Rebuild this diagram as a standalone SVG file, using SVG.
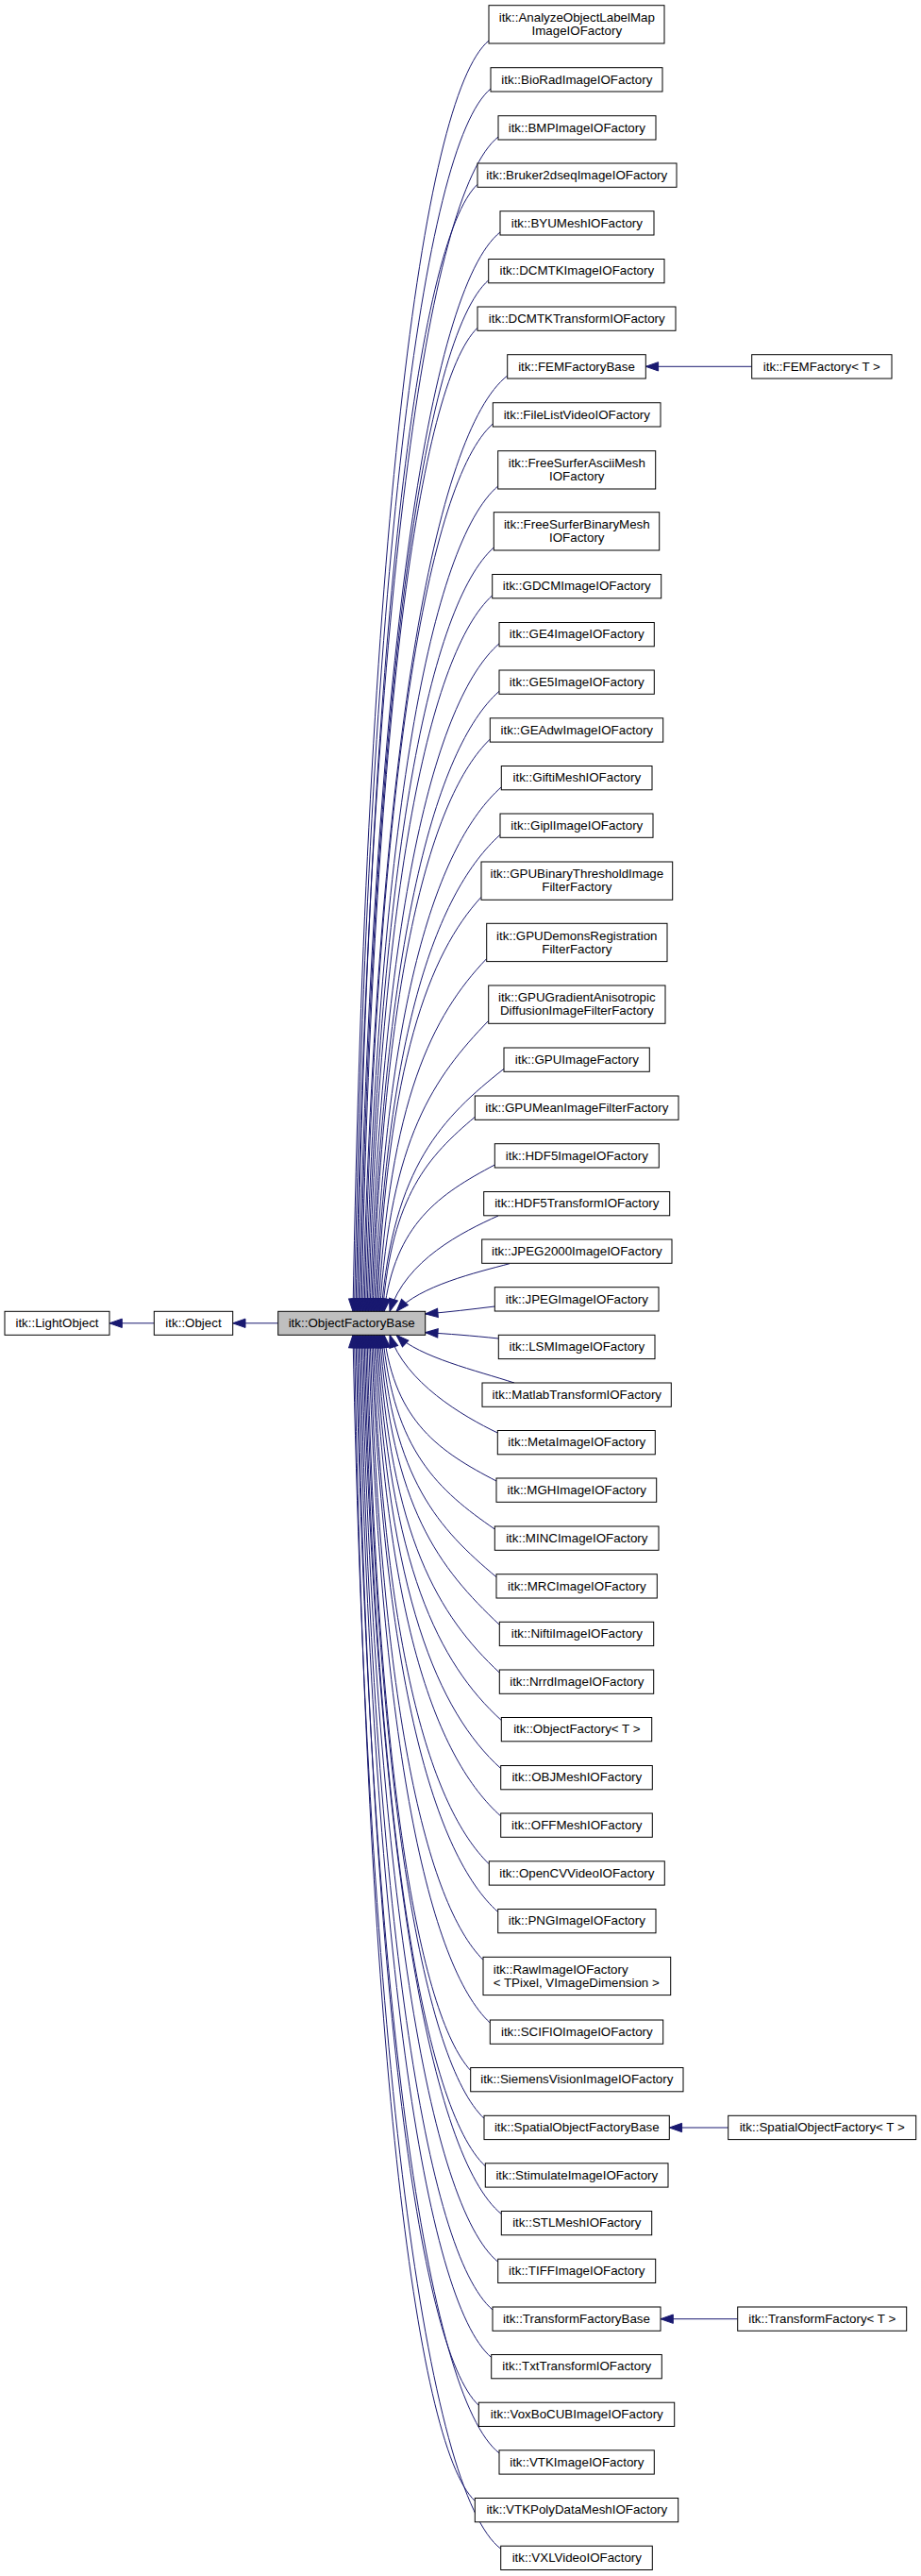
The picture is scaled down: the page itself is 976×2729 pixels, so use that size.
<svg xmlns="http://www.w3.org/2000/svg" width="976" height="2729" viewBox="0 0 976 2729">
<defs>
<style>
.node rect{fill:#ffffff;stroke:#000000;stroke-width:1}
.node text{font-family:"Liberation Sans",Arial,sans-serif;font-size:13.33px;fill:#000000;text-anchor:middle}
.node text.l{text-anchor:start}
#n0c rect{fill:#bfbfbf}
#edges path{fill:none;stroke:#191970;stroke-width:1;marker-end:url(#arr)}
</style>
<marker id="arr" markerUnits="userSpaceOnUse" markerWidth="14" markerHeight="10" viewBox="0 0 14 10" refX="13.3" refY="5" orient="auto" overflow="visible">
<path d="M0,0.33 L13.3,5 L0,9.67 z" fill="#191970" stroke="#191970" stroke-width="1"/>
</marker>
</defs>
<rect x="0" y="0" width="976" height="2729" fill="#ffffff"/>
<g id="edges">
<path d="M163.3,1401.8 L116,1401.8"/>
<path d="M294.7,1401.8 L246.7,1401.8"/>
<path d="M796.7,388.3 L684.3,388.3"/>
<path d="M771.7,2254 L709.3,2254"/>
<path d="M781.7,2456.7 L700,2456.7"/>
<path d="M518,43 C446,103 388.4,581.5 374,1389.3"/>
<path d="M520,94 C447.8,154 390,612 375.5,1389.3"/>
<path d="M528,145 C452.5,205 392.1,642.7 377,1389.3"/>
<path d="M506,195.3 C442.3,255.3 391.3,672.9 378.5,1389.3"/>
<path d="M530,246 C454.7,306 394.9,703.3 380,1389.3"/>
<path d="M517.7,296.8 C449.6,356.8 395.1,733.8 381.5,1389.3"/>
<path d="M506,347.3 C444.5,407.3 395.3,764.1 383,1389.3"/>
<path d="M537.7,398 C461.1,458 399.8,794.5 384.5,1389.3"/>
<path d="M522.3,449 C454.2,509 399.6,825.1 386,1389.3"/>
<path d="M527.7,515 C457.6,575 401.5,864.7 387.5,1389.3"/>
<path d="M523.3,580 C456.2,640 402.4,903.7 389,1389.3"/>
<path d="M521.7,630.8 C456.1,690.8 403.6,934.2 390.5,1389.3"/>
<path d="M529,681.8 C460.5,741.8 405.7,964.8 392,1389.3"/>
<path d="M529,732.3 C461.3,792.3 407.1,995.1 393.5,1389.3"/>
<path d="M519.3,783.1 C457.2,843.1 407.4,1025.6 395,1389.3"/>
<path d="M531.3,833.8 C463.9,893.8 410,1056 396.5,1389.3"/>
<path d="M530,884.3 C464,944.3 411.2,1086.3 398,1389.3"/>
<path d="M510,950.3 C454.8,1010.3 410.6,1125.9 399.5,1389.3"/>
<path d="M515.7,1015.6 C458.4,1075.6 412.5,1165.1 401,1389.3"/>
<path d="M517.7,1081.3 C460.1,1141.3 414,1204.5 402.5,1389.3"/>
<path d="M534,1132.3 C469,1183.7 417,1235.1 404,1389.3"/>
<path d="M503.3,1183.3 C454.4,1224.5 415.3,1265.7 405.5,1389.3"/>
<path d="M524.3,1234 C465.7,1265.1 418.7,1296.1 407,1389.3"/>
<path d="M528,1288 C490,1305 430,1335 413,1389.3"/>
<path d="M540,1338.7 C505,1348 445,1362 420,1389.3"/>
<path d="M524.3,1384 C500,1387 475,1390 450.7,1392"/>
<path d="M528.3,1418 C500,1415 475,1413 450.7,1411.7"/>
<path d="M545,1465 C505,1452 445,1438 420,1414.3"/>
<path d="M527.3,1518 C490,1500 430,1465 413,1414.3"/>
<path d="M526,1569 C466.5,1538.1 418.9,1507.1 407,1414.3"/>
<path d="M524.3,1620 C464.9,1578.9 417.4,1537.7 405.5,1414.3"/>
<path d="M526,1670.7 C465,1619.4 416.2,1568.1 404,1414.3"/>
<path d="M529.3,1721.3 C465.9,1661.3 415.2,1598.5 402.5,1414.3"/>
<path d="M529.3,1772 C465.2,1712 413.8,1628.9 401,1414.3"/>
<path d="M531.3,1822.5 C465.4,1762.5 412.7,1659.2 399.5,1414.3"/>
<path d="M530.7,1873.5 C464.4,1813.5 411.3,1689.8 398,1414.3"/>
<path d="M530.7,1924 C463.6,1864 409.9,1720.1 396.5,1414.3"/>
<path d="M518.3,1974.8 C456.7,1914.8 407.3,1750.6 395,1414.3"/>
<path d="M527.7,2025.5 C460.6,1965.5 406.9,1781 393.5,1414.3"/>
<path d="M512,2076.3 C452,2016.3 404,1811.5 392,1414.3"/>
<path d="M519.3,2143 C454.9,2083 403.4,1851.5 390.5,1414.3"/>
<path d="M498.7,2193.5 C443.9,2133.5 400,1881.8 389,1414.3"/>
<path d="M513,2244.3 C450.3,2184.3 400.1,1912.3 387.5,1414.3"/>
<path d="M514.3,2294.8 C450.2,2234.8 398.8,1942.6 386,1414.3"/>
<path d="M531.3,2345.5 C457.9,2285.5 399.2,1973 384.5,1414.3"/>
<path d="M527.7,2396.2 C455.4,2336.2 397.5,2003.4 383,1414.3"/>
<path d="M522,2447 C451.8,2387 395.6,2033.9 381.5,1414.3"/>
<path d="M520.7,2497.5 C450.4,2437.5 394.1,2064.2 380,1414.3"/>
<path d="M507.3,2548.2 C442.9,2488.2 391.4,2094.6 378.5,1414.3"/>
<path d="M529,2598.8 C453,2538.8 392.2,2125 377,1414.3"/>
<path d="M503.3,2649.5 C439.4,2589.5 388.3,2155.4 375.5,1414.3"/>
<path d="M530.7,2700.2 C452.4,2640.2 389.7,2185.8 374,1414.3"/>
</g>
<g id="n0a" class="node"><rect x="5" y="1389.3" width="111" height="25"/><text x="60.5" y="1406.2">itk::LightObject</text></g>
<g id="n0b" class="node"><rect x="163.3" y="1389.3" width="83.4" height="25"/><text x="205" y="1406.2">itk::Object</text></g>
<g id="n0c" class="node"><rect x="294.7" y="1389.3" width="156" height="25"/><text x="372.7" y="1406.2">itk::ObjectFactoryBase</text></g>
<g id="n1" class="node"><rect x="518" y="5.7" width="186" height="40.3"/><text x="611.3" y="23">itk::AnalyzeObjectLabelMap</text><text x="611.3" y="37">ImageIOFactory</text></g>
<g id="n2" class="node"><rect x="520" y="71.7" width="182" height="25.3"/><text x="611.3" y="88.5">itk::BioRadImageIOFactory</text></g>
<g id="n3" class="node"><rect x="528" y="122.7" width="167" height="25.3"/><text x="611.3" y="139.5">itk::BMPImageIOFactory</text></g>
<g id="n4" class="node"><rect x="506" y="173" width="211" height="25.3"/><text x="611.3" y="189.8">itk::Bruker2dseqImageIOFactory</text></g>
<g id="n5" class="node"><rect x="530" y="223.7" width="163" height="25.3"/><text x="611.3" y="240.5">itk::BYUMeshIOFactory</text></g>
<g id="n6" class="node"><rect x="517.7" y="274.5" width="186.3" height="25.3"/><text x="611.3" y="291.3">itk::DCMTKImageIOFactory</text></g>
<g id="n7" class="node"><rect x="506" y="325" width="210" height="25.3"/><text x="611.3" y="341.8">itk::DCMTKTransformIOFactory</text></g>
<g id="n8" class="node"><rect x="537.7" y="375.7" width="146.6" height="25.3"/><text x="611" y="392.5">itk::FEMFactoryBase</text></g>
<g id="n8b" class="node"><rect x="796.7" y="375.7" width="148.3" height="25.3"/><text x="870.8" y="392.5">itk::FEMFactory&lt; T &gt;</text></g>
<g id="n9" class="node"><rect x="522.3" y="426.7" width="177.7" height="25.3"/><text x="611.3" y="443.5">itk::FileListVideoIOFactory</text></g>
<g id="n10" class="node"><rect x="527.7" y="477.7" width="167" height="40.3"/><text x="611.3" y="495">itk::FreeSurferAsciiMesh</text><text x="611.3" y="509">IOFactory</text></g>
<g id="n11" class="node"><rect x="523.3" y="542.7" width="175.4" height="40.3"/><text x="611.3" y="560">itk::FreeSurferBinaryMesh</text><text x="611.3" y="574">IOFactory</text></g>
<g id="n12" class="node"><rect x="521.7" y="608.5" width="179" height="25.3"/><text x="611.3" y="625.3">itk::GDCMImageIOFactory</text></g>
<g id="n13" class="node"><rect x="529" y="659.5" width="164.3" height="25.3"/><text x="611.3" y="676.3">itk::GE4ImageIOFactory</text></g>
<g id="n14" class="node"><rect x="529" y="710" width="164.3" height="25.3"/><text x="611.3" y="726.8">itk::GE5ImageIOFactory</text></g>
<g id="n15" class="node"><rect x="519.3" y="760.8" width="183.4" height="25.3"/><text x="611.3" y="777.6">itk::GEAdwImageIOFactory</text></g>
<g id="n16" class="node"><rect x="531.3" y="811.5" width="159.7" height="25.3"/><text x="611.3" y="828.3">itk::GiftiMeshIOFactory</text></g>
<g id="n17" class="node"><rect x="530" y="862" width="162" height="25.3"/><text x="611.3" y="878.8">itk::GiplImageIOFactory</text></g>
<g id="n18" class="node"><rect x="510" y="913" width="202.7" height="40.3"/><text x="611.3" y="930.3">itk::GPUBinaryThresholdImage</text><text x="611.3" y="944.3">FilterFactory</text></g>
<g id="n19" class="node"><rect x="515.7" y="978.3" width="191.3" height="40.3"/><text x="611.3" y="995.6">itk::GPUDemonsRegistration</text><text x="611.3" y="1009.6">FilterFactory</text></g>
<g id="n20" class="node"><rect x="517.7" y="1044" width="187.3" height="40.3"/><text x="611.3" y="1061.3">itk::GPUGradientAnisotropic</text><text x="611.3" y="1075.3">DiffusionImageFilterFactory</text></g>
<g id="n21" class="node"><rect x="534" y="1110" width="154.3" height="25.3"/><text x="611.3" y="1126.8">itk::GPUImageFactory</text></g>
<g id="n22" class="node"><rect x="503.3" y="1161" width="215.7" height="25.3"/><text x="611.3" y="1177.8">itk::GPUMeanImageFilterFactory</text></g>
<g id="n23" class="node"><rect x="524.3" y="1211.7" width="174" height="25.3"/><text x="611.3" y="1228.5">itk::HDF5ImageIOFactory</text></g>
<g id="n24" class="node"><rect x="512.7" y="1262.5" width="197" height="25.3"/><text x="611.3" y="1279.3">itk::HDF5TransformIOFactory</text></g>
<g id="n25" class="node"><rect x="510.7" y="1313" width="201.3" height="25.3"/><text x="611.3" y="1329.8">itk::JPEG2000ImageIOFactory</text></g>
<g id="n26" class="node"><rect x="524.3" y="1363.7" width="173.7" height="25.3"/><text x="611.3" y="1380.5">itk::JPEGImageIOFactory</text></g>
<g id="n27" class="node"><rect x="528.3" y="1414.3" width="165.7" height="25.3"/><text x="611.3" y="1431.1">itk::LSMImageIOFactory</text></g>
<g id="n28" class="node"><rect x="511" y="1465" width="200.3" height="25.3"/><text x="611.3" y="1481.8">itk::MatlabTransformIOFactory</text></g>
<g id="n29" class="node"><rect x="527.3" y="1515.5" width="167" height="25.3"/><text x="611.3" y="1532.3">itk::MetaImageIOFactory</text></g>
<g id="n30" class="node"><rect x="526" y="1566" width="169.7" height="25.3"/><text x="611.3" y="1582.8">itk::MGHImageIOFactory</text></g>
<g id="n31" class="node"><rect x="524.3" y="1617" width="173.7" height="25.3"/><text x="611.3" y="1633.8">itk::MINCImageIOFactory</text></g>
<g id="n32" class="node"><rect x="526" y="1667.7" width="170.3" height="25.3"/><text x="611.3" y="1684.5">itk::MRCImageIOFactory</text></g>
<g id="n33" class="node"><rect x="529.3" y="1718.3" width="163.4" height="25.3"/><text x="611.3" y="1735.1">itk::NiftiImageIOFactory</text></g>
<g id="n34" class="node"><rect x="529.3" y="1769" width="163.4" height="25.3"/><text x="611.3" y="1785.8">itk::NrrdImageIOFactory</text></g>
<g id="n35" class="node"><rect x="531.3" y="1819.5" width="159.4" height="25.3"/><text x="611.3" y="1836.3">itk::ObjectFactory&lt; T &gt;</text></g>
<g id="n36" class="node"><rect x="530.7" y="1870.5" width="160.6" height="25.3"/><text x="611.3" y="1887.3">itk::OBJMeshIOFactory</text></g>
<g id="n37" class="node"><rect x="530.7" y="1921" width="160.6" height="25.3"/><text x="611.3" y="1937.8">itk::OFFMeshIOFactory</text></g>
<g id="n38" class="node"><rect x="518.3" y="1971.8" width="186" height="25.3"/><text x="611.3" y="1988.6">itk::OpenCVVideoIOFactory</text></g>
<g id="n39" class="node"><rect x="527.7" y="2022.5" width="167.3" height="25.3"/><text x="611.3" y="2039.3">itk::PNGImageIOFactory</text></g>
<g id="n40" class="node"><rect x="512" y="2073.3" width="198.7" height="40.3"/><text class="l" x="522.7" y="2090.6">itk::RawImageIOFactory</text><text class="l" x="522.7" y="2104.6">&lt; TPixel, VImageDimension &gt;</text></g>
<g id="n41" class="node"><rect x="519.3" y="2140" width="183.4" height="25.3"/><text x="611.3" y="2156.8">itk::SCIFIOImageIOFactory</text></g>
<g id="n42" class="node"><rect x="498.7" y="2190.5" width="225.3" height="25.3"/><text x="611.3" y="2207.3">itk::SiemensVisionImageIOFactory</text></g>
<g id="n43" class="node"><rect x="513" y="2241.3" width="196.3" height="25.3"/><text x="611.3" y="2258.1">itk::SpatialObjectFactoryBase</text></g>
<g id="n43b" class="node"><rect x="771.7" y="2241.3" width="199" height="25.3"/><text x="871.2" y="2258.1">itk::SpatialObjectFactory&lt; T &gt;</text></g>
<g id="n44" class="node"><rect x="514.3" y="2291.8" width="193.7" height="25.3"/><text x="611.3" y="2308.6">itk::StimulateImageIOFactory</text></g>
<g id="n45" class="node"><rect x="531.3" y="2342.5" width="159.4" height="25.3"/><text x="611.3" y="2359.3">itk::STLMeshIOFactory</text></g>
<g id="n46" class="node"><rect x="527.7" y="2393.2" width="167" height="25.3"/><text x="611.3" y="2410">itk::TIFFImageIOFactory</text></g>
<g id="n47" class="node"><rect x="522" y="2444" width="178" height="25.3"/><text x="611" y="2460.8">itk::TransformFactoryBase</text></g>
<g id="n47b" class="node"><rect x="781.7" y="2444" width="179" height="25.3"/><text x="871.2" y="2460.8">itk::TransformFactory&lt; T &gt;</text></g>
<g id="n48" class="node"><rect x="520.7" y="2494.5" width="180.6" height="25.3"/><text x="611.3" y="2511.3">itk::TxtTransformIOFactory</text></g>
<g id="n49" class="node"><rect x="507.3" y="2545.2" width="207.4" height="25.3"/><text x="611.3" y="2562">itk::VoxBoCUBImageIOFactory</text></g>
<g id="n50" class="node"><rect x="529" y="2595.8" width="164.3" height="25.3"/><text x="611.3" y="2612.6">itk::VTKImageIOFactory</text></g>
<g id="n51" class="node"><rect x="503.3" y="2646.5" width="215.4" height="25.3"/><text x="611.3" y="2663.3">itk::VTKPolyDataMeshIOFactory</text></g>
<g id="n52" class="node"><rect x="530.7" y="2697.2" width="160.6" height="25.3"/><text x="611.3" y="2714">itk::VXLVideoIOFactory</text></g>
</svg>
